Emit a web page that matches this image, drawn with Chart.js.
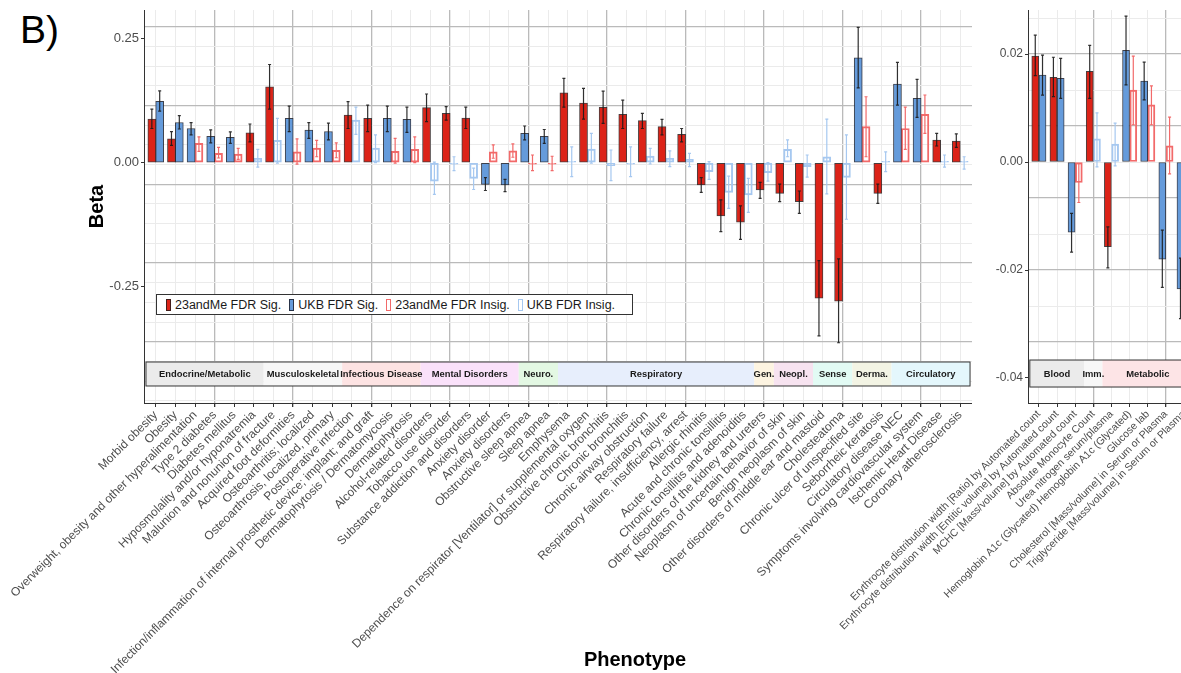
<!DOCTYPE html>
<html lang="en">
<head>
<meta charset="UTF-8">
<title>Phenotype Beta</title>
<script src="https://cdn.jsdelivr.net/npm/chart.js"></script>
<style>
  html, body { margin: 0; padding: 0; background: #fff; overflow: hidden; width: 1181px; height: 673px; font-family: "Liberation Sans", Arial, sans-serif; }
  #panelLeft { position: absolute; left: 0; top: 0; width: 972px; height: 673px; }
  #panelRight { position: absolute; left: 820px; top: 0; width: 375px; height: 673px; }
  #tag { position: absolute; left: 20px; top: 10px; font-size: 39px; line-height: 39px; color: #000; }
  #xTitle { position: absolute; left: 535px; width: 200px; top: 649px; text-align: center; font-size: 20px; line-height: 20px; font-weight: bold; color: #000; }
  #legend { position: absolute; left: 156px; top: 294px; width: 466px; height: 19px; border: 1px solid #333; background: #fff;
            display: flex; align-items: center; padding-left: 9px; box-sizing: content-box; font-size: 12.5px; color: #1a1a1a; }
  #legend .item { display: flex; align-items: center; margin-right: 8px; white-space: nowrap; }
  #legend .sw { width: 5px; height: 12px; margin-right: 4px; box-sizing: border-box; border-width: 1.3px; border-style: solid; }
</style>
</head>
<body>
<div id="tag">B)</div>
<div id="panelLeft"><canvas id="leftChart"></canvas></div>
<div id="panelRight"><canvas id="rightChart"></canvas></div>
<div id="legend"></div>
<div id="xTitle">Phenotype</div>
<script>
// ---- left panel (phenotypes) ----
const leftCategories = [
  'Morbid obesity', 'Obesity', 'Overweight, obesity and other hyperalimentation', 'Type 2 diabetes',
  'Diabetes mellitus', 'Hyposmolality and/or hyponatremia', 'Malunion and nonunion of fracture',
  'Acquired foot deformities', 'Osteoarthritis; localized', 'Osteoarthrosis, localized, primary',
  'Postoperative infection', 'Infection/inflammation of internal prosthetic device; implant; and graft',
  'Dermatophytosis / Dermatomycosis', 'Dermatophytosis', 'Alcohol-related disorders', 'Tobacco use disorder',
  'Substance addiction and disorders', 'Anxiety disorder', 'Anxiety disorders', 'Obstructive sleep apnea',
  'Sleep apnea', 'Emphysema', 'Dependence on respirator [Ventilator] or supplemental oxygen',
  'Obstructive chronic bronchitis', 'Chronic bronchitis', 'Chronic airway obstruction', 'Respiratory failure',
  'Respiratory failure, insufficiency, arrest', 'Allergic rhinitis', 'Acute and chronic tonsillitis',
  'Chronic tonsillitis and adenoiditis', 'Other disorders of the kidney and ureters',
  'Neoplasm of uncertain behavior of skin', 'Benign neoplasm of skin', 'Other disorders of middle ear and mastoid',
  'Cholesteatoma', 'Chronic ulcer of unspecified site', 'Seborrheic keratosis', 'Circulatory disease NEC',
  'Symptoms involving cardiovascular system', 'Ischemic Heart Disease', 'Coronary atherosclerosis'
];
const leftBeta23 = [0.088, 0.048, 0.039, 0.019, 0.0175, 0.060, 0.153, 0.022, 0.0296, 0.025,
  0.096, 0.0895, 0.023, 0.027, 0.111, 0.0996, 0.090, 0.022, 0.024, -0.001,
  -0.002, 0.141, 0.120, 0.1117, 0.0976, 0.0847, 0.0726, 0.057, -0.045, -0.1075,
  -0.120, -0.055, -0.0617, -0.0786, -0.273, -0.279, 0.0726, -0.0617, 0.069, 0.0976, 0.0458, 0.0437];
const leftLo23 = [0.069, 0.035, 0.023, 0.0095, 0.0066, 0.042, 0.108, -0.003, 0.012, 0.010,
  0.069, 0.0625, -0.001, 0.0, 0.083, 0.086, 0.069, 0.009, 0.011, -0.016,
  -0.016, 0.112, 0.088, 0.0794, 0.069, 0.069, 0.056, 0.042, -0.060, -0.139,
  -0.1545, -0.072, -0.0786, -0.102, -0.349, -0.363, 0.012, -0.082, 0.027, 0.059, 0.0337, 0.031];
const leftHi23 = [0.108, 0.0625, 0.052, 0.031, 0.029, 0.078, 0.198, 0.048, 0.045, 0.040,
  0.123, 0.116, 0.049, 0.052, 0.1385, 0.113, 0.112, 0.036, 0.038, 0.0155,
  0.013, 0.170, 0.150, 0.1445, 0.126, 0.0996, 0.0875, 0.069, -0.030, -0.075,
  -0.087, -0.0396, -0.043, -0.057, -0.1975, -0.194, 0.133, -0.043, 0.112, 0.1365, 0.059, 0.058];
const leftSig23 = [1, 1, 0, 0, 0, 1, 1, 0, 0, 0, 1, 1, 0, 0, 1, 1, 1, 0, 0, 0, 0,
  1, 1, 1, 1, 1, 1, 1, 1, 1, 1, 1, 1, 1, 1, 1, 0, 1, 0, 0, 1, 1];
const leftBetaUKB = [0.124, 0.081, 0.069, 0.053, 0.051, 0.009, 0.045, 0.0895, 0.066, 0.063,
  0.086, 0.0296, 0.0895, 0.0875, -0.037, -0.002, -0.0315, -0.0436, -0.045, 0.059,
  0.053, 0.001, 0.0276, -0.006, -0.001, 0.0135, 0.009, 0.007, -0.018, -0.060,
  -0.065, -0.020, 0.027, -0.008, 0.012, -0.0295, 0.2117, 0.001, 0.1587, 0.130, 0.002, 0.001];
const leftLoUKB = [0.104, 0.068, 0.056, 0.040, 0.039, -0.009, -0.001, 0.0625, 0.049, 0.046,
  0.057, 0.0, 0.0625, 0.061, -0.064, -0.016, -0.054, -0.056, -0.0585, 0.046,
  0.039, -0.028, -0.001, -0.036, -0.028, -0.0026, -0.008, -0.008, -0.0335, -0.092,
  -0.100, -0.037, 0.012, -0.029, -0.063, -0.114, 0.151, -0.018, 0.116, 0.0915, -0.009, -0.013];
const leftHiUKB = [0.145, 0.095, 0.081, 0.066, 0.062, 0.027, 0.0895, 0.114, 0.081, 0.080,
  0.112, 0.056, 0.114, 0.112, 0.001, 0.012, -0.011, -0.030, -0.0335, 0.074,
  0.067, 0.032, 0.059, 0.0256, 0.032, 0.029, 0.024, 0.019, 0.002, -0.027,
  -0.0315, 0.0, 0.046, 0.0155, 0.088, 0.056, 0.273, 0.022, 0.2024, 0.168, 0.0155, 0.012];
const leftSigUKB = [1, 1, 1, 1, 1, 0, 0, 1, 1, 1, 0, 0, 1, 1, 0, 0, 0, 1, 1, 1, 1,
  0, 0, 0, 0, 0, 0, 0, 0, 0, 0, 0, 0, 0, 0, 0, 1, 0, 1, 1, 0, 0];
const leftYTicks = [-0.25, 0, 0.25];
const leftGroups = ['Endocrine/Metabolic', 'Musculoskeletal', 'Infectious Disease', 'Mental Disorders', 'Neuro.',
  'Respiratory', 'Gen.', 'Neopl.', 'Sense', 'Derma.', 'Circulatory'];
const leftGroupStart = [1, 7, 11, 15, 20, 22, 32, 33, 35, 37, 39];
const leftGroupEnd = [6, 10, 14, 19, 21, 31, 32, 34, 36, 38, 42];
const leftGroupColors = ['#ebebeb', '#f7f7f7', '#fde3e3', '#fae1fa', '#e3f8e3', '#e7eefc', '#fdf4e1',
  '#f7e3f0', '#e2fbf4', '#f3f4e4', '#e4f7fc'];

// ---- right panel (lab measures) ----
const rightCategories = [
  'Erythrocyte distribution width [Ratio] by Automated count',
  'Erythrocyte distribution width [Entitic volume] by Automated count',
  'MCHC [Mass/volume] by Automated count', 'Absolute Monocyte Count', 'Urea nitrogen serum/plasma',
  'Hemoglobin A1c (Glycated) Hemoglobin A1c (Glycated)', 'Glucose lab',
  'Cholesterol [Mass/volume] in Serum or Plasma', 'Triglyceride [Mass/volume] in Serum or Plasma'
];
const rightBeta23 = [0.0196, 0.0157, -0.0038, 0.0168, -0.0157, 0.0133, 0.0106, 0.0030, null];
const rightLo23 = [0.0160, 0.0121, -0.0075, 0.0118, -0.0196, 0.0069, 0.0069, -0.0022, null];
const rightHi23 = [0.0235, 0.0194, -0.0003, 0.0216, -0.0120, 0.0196, 0.0141, 0.0083, null];
const rightSig23 = [1, 1, 0, 1, 1, 0, 0, 0, 0];
const rightBetaUKB = [0.0161, 0.0155, -0.0130, 0.0043, 0.0033, 0.0207, 0.0150, -0.0180, -0.0235];
const rightLoUKB = [0.0124, 0.0118, -0.0167, -0.0009, -0.0007, 0.0143, 0.0115, -0.0232, -0.0290];
const rightHiUKB = [0.0198, 0.0192, -0.0095, 0.0091, 0.0072, 0.0270, 0.0185, -0.0126, -0.0178];
const rightSigUKB = [1, 1, 1, 0, 0, 1, 1, 1, 1];
const rightYTicks = [-0.04, -0.02, 0, 0.02];
const rightGroups = ['Blood', 'Imm.', 'Metabolic'];
const rightGroupStart = [1, 4, 5];
const rightGroupEnd = [3, 4, 9];
const rightGroupColors = ['#ebebeb', '#f7f7f7', '#fde4e6'];

const FONT = '"Liberation Sans", Arial, sans-serif';
const SERIES = [
  { label: '23andMe FDR Sig.', fill: '#dc2318', border: 'rgba(40,28,28,0.85)', err: 'rgba(25,25,25,0.9)', width: 1 },
  { label: 'UKB FDR Sig.', fill: '#659bdb', border: 'rgba(28,32,45,0.85)', err: 'rgba(25,25,25,0.9)', width: 1 },
  { label: '23andMe FDR Insig.', fill: 'rgba(255,255,255,0)', border: '#f26a6a', err: '#f26a6a', width: 1.3 },
  { label: 'UKB FDR Insig.', fill: 'rgba(255,255,255,0)', border: '#a6c8f0', err: '#a6c8f0', width: 1.3 }
];

// dodge order follows legend order: 23andMe Sig, UKB Sig, 23andMe Insig, UKB Insig
function buildDatasets(b23, lo23, hi23, s23, bUK, loUK, hiUK, sUK, thickness) {
  const sets = SERIES.map(s => ({
    label: s.label, data: [], errLo: [], errHi: [], errColor: s.err,
    backgroundColor: s.fill, borderColor: s.border, borderWidth: s.width,
    borderSkipped: false, barThickness: thickness, grouped: false, minBarLength: 1.5
  }));
  b23.forEach((_, i) => {
    const r23 = s23[i] ? 0 : 2, rUK = sUK[i] ? 1 : 3;
    const o23 = r23 < rUK ? -0.2 : 0.2;
    if (b23[i] !== null) {
      const d = sets[r23];
      d.data.push({ x: i + 1 + o23, y: b23[i] }); d.errLo.push(lo23[i]); d.errHi.push(hi23[i]);
    }
    if (bUK[i] !== null) {
      const d = sets[rUK];
      d.data.push({ x: i + 1 - o23, y: bUK[i] }); d.errLo.push(loUK[i]); d.errHi.push(hiUK[i]);
    }
  });
  return sets;
}

function lattice(base, step, every, min, max) {
  const out = [];
  for (let k = Math.ceil((min - base) / step); base + k * step <= max; k++) {
    out.push({ value: base + k * step, strong: ((k % every) + every) % every === 0 });
  }
  return out;
}

const errorBars = {
  id: 'errorBars',
  afterDatasetsDraw(chart) {
    const { ctx, chartArea, scales: { y } } = chart;
    ctx.save();
    ctx.beginPath();
    ctx.rect(chartArea.left, chartArea.top, chartArea.right - chartArea.left, chartArea.bottom - chartArea.top);
    ctx.clip();
    chart.data.datasets.forEach((ds, di) => {
      const meta = chart.getDatasetMeta(di);
      ctx.strokeStyle = ds.errColor;
      ctx.lineWidth = 1.2;
      meta.data.forEach((bar, j) => {
        const top = y.getPixelForValue(ds.errHi[j]);
        const bot = y.getPixelForValue(ds.errLo[j]);
        ctx.beginPath();
        ctx.moveTo(bar.x, top); ctx.lineTo(bar.x, bot);
        ctx.moveTo(bar.x - 1.5, top); ctx.lineTo(bar.x + 1.5, top);
        ctx.moveTo(bar.x - 1.5, bot); ctx.lineTo(bar.x + 1.5, bot);
        ctx.stroke();
      });
    });
    ctx.restore();
  }
};

const groupStrip = {
  id: 'groupStrip',
  afterDatasetsDraw(chart, args, opts) {
    const { ctx, scales: { x, y } } = chart;
    const top = y.getPixelForValue(opts.top), bot = y.getPixelForValue(opts.bottom);
    const xs = opts.start.map(s => x.getPixelForValue(s - 0.5));
    const xe = opts.end.map(e => x.getPixelForValue(e + 0.5));
    ctx.save();
    opts.names.forEach((n, k) => {
      ctx.fillStyle = opts.colors[k];
      ctx.fillRect(xs[k], top, xe[k] - xs[k], bot - top);
    });
    ctx.fillStyle = '#1a1a1a';
    ctx.font = 'bold 9.4px ' + FONT;
    ctx.textAlign = 'center';
    ctx.textBaseline = 'middle';
    opts.names.forEach((n, k) => ctx.fillText(n, (xs[k] + xe[k]) / 2, (top + bot) / 2 + 0.5));
    ctx.strokeStyle = '#333';
    ctx.lineWidth = 1;
    ctx.strokeRect(xs[0], top, xe[xe.length - 1] - xs[0], bot - top);
    ctx.restore();
  }
};

function makeChart(id, cfg) {
  const gridMajor = '#bababa', gridMinor = '#ebebeb';
  return new Chart(document.getElementById(id), {
    type: 'bar',
    data: { datasets: cfg.datasets },
    options: {
      responsive: true,
      maintainAspectRatio: false,
      animation: false,
      events: [],
      layout: { padding: { left: cfg.padLeft, top: 10, right: 0, bottom: 0 } },
      plugins: {
        legend: { display: false },
        tooltip: { enabled: false },
        groupStrip: cfg.strip
      },
      scales: {
        x: {
          type: 'linear', min: 0.4, max: cfg.xMax, offset: false,
          afterBuildTicks: s => { s.ticks = cfg.categories.map((_, i) => ({ value: i + 1 })); },
          afterFit: s => { s.height = 270; s.paddingLeft = 0; s.paddingRight = 0; },
          ticks: {
            autoSkip: false, minRotation: 45, maxRotation: 45, padding: 1,
            color: '#4d4d4d', font: { family: FONT, size: cfg.xFont },
            callback: v => cfg.categories[v - 1]
          },
          grid: {
            offset: false,
            color: c => (c.tick && c.tick.value % 4 === 0) ? gridMajor : gridMinor,
            lineWidth: c => (c.tick && c.tick.value % 4 === 0) ? 1.3 : 1,
            tickColor: '#333', tickLength: 4
          },
          border: { color: '#333', width: 1 }
        },
        y: {
          position: 'left', min: cfg.yMin, max: cfg.yMax,
          afterBuildTicks: s => { s.ticks = cfg.yTicks.map(v => ({ value: v })); },
          afterFit: s => { s.width = cfg.yWidth; s.paddingTop = 0; s.paddingBottom = 0; },
          ticks: { color: '#4d4d4d', font: { family: FONT, size: cfg.yFont }, padding: 2, callback: v => v.toFixed(2) },
          grid: { drawOnChartArea: false, tickColor: '#333', tickLength: 3 },
          border: { color: '#333', width: 1 },
          title: cfg.yTitle ? { display: true, text: cfg.yTitle, color: '#000',
            font: { family: FONT, size: 20, weight: 'bold' }, padding: { top: 0, bottom: 0 } } : { display: false }
        },
        yg: {
          position: 'right', min: cfg.yMin, max: cfg.yMax,
          afterBuildTicks: s => { s.ticks = cfg.lattice; },
          afterFit: s => { s.width = 0; s.paddingTop = 0; s.paddingBottom = 0; },
          ticks: { display: false },
          grid: {
            drawTicks: false,
            color: c => (c.tick && c.tick.strong) ? gridMajor : gridMinor,
            lineWidth: c => (c.tick && c.tick.strong) ? 1.3 : 1
          },
          border: { display: false }
        }
      }
    },
    plugins: [errorBars, groupStrip]
  });
}

const leftY = { min: -0.4845, max: 0.3079 };
const rightY = { min: -0.04463, max: 0.02815 };

const leftChart = makeChart('leftChart', {
  categories: leftCategories,
  datasets: buildDatasets(leftBeta23, leftLo23, leftHi23, leftSig23, leftBetaUKB, leftLoUKB, leftHiUKB, leftSigUKB, 8),
  xMax: 42.6, yMin: leftY.min, yMax: leftY.max, yTicks: leftYTicks,
  padLeft: 85, yWidth: 59, yFont: 13, xFont: 12, yTitle: 'Beta',
  lattice: lattice(0.2742, 0.0397, 4, leftY.min, leftY.max),
  strip: { names: leftGroups, start: leftGroupStart, end: leftGroupEnd, colors: leftGroupColors, top: -0.4018, bottom: -0.4502 }
});

makeChart('rightChart', {
  categories: rightCategories,
  datasets: buildDatasets(rightBeta23, rightLo23, rightHi23, rightSig23, rightBetaUKB, rightLoUKB, rightHiUKB, rightSigUKB, 7),
  xMax: 9.6, yMin: rightY.min, yMax: rightY.max, yTicks: rightYTicks,
  padLeft: 170, yWidth: 38, yFont: 12, xFont: 10.5, yTitle: null,
  lattice: lattice(0.02, 0.006667, 2, rightY.min, rightY.max),
  strip: { names: rightGroups, start: rightGroupStart, end: rightGroupEnd, colors: rightGroupColors, top: -0.03667, bottom: -0.04167 }
});

// legend built from the left chart's datasets
const legendEl = document.getElementById('legend');
leftChart.data.datasets.forEach(ds => {
  const item = document.createElement('div');
  item.className = 'item';
  const sw = document.createElement('span');
  sw.className = 'sw';
  sw.style.background = ds.backgroundColor === 'rgba(255,255,255,0)' ? '#fff' : ds.backgroundColor;
  sw.style.borderColor = ds.borderColor;
  item.appendChild(sw);
  item.appendChild(document.createTextNode(ds.label));
  legendEl.appendChild(item);
});
</script>
</body>
</html>
